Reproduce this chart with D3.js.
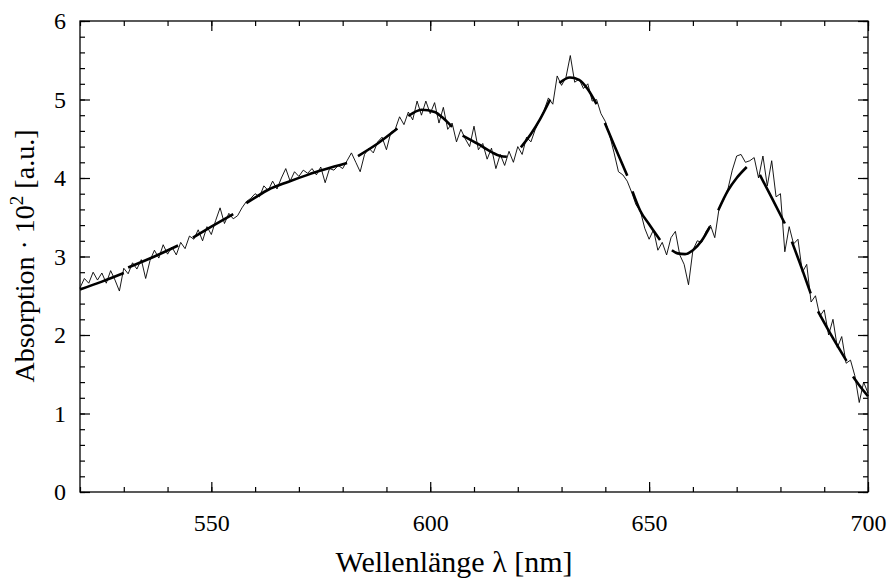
<!DOCTYPE html>
<html><head><meta charset="utf-8">
<script src="https://cdn.jsdelivr.net/npm/d3@7"></script>
<style>
html,body{margin:0;padding:0;background:#fff;}
svg{display:block;font-family:"Liberation Serif","Times New Roman",serif;}
</style></head>
<body><svg id="c" width="889" height="580"></svg>
<script>
// ---- data ----
const wavelengthStart = 520;
const wavelengthStep = 1;
const measured = [
2.60,2.72,2.66,2.80,2.70,2.79,2.66,2.82,2.70,2.56,
2.85,2.78,2.92,2.84,2.96,2.72,2.95,3.08,2.98,3.15,
3.03,3.12,3.02,3.18,3.10,3.26,3.22,3.34,3.20,3.38,
3.28,3.46,3.62,3.42,3.55,3.48,3.52,3.62,3.70,3.74,
3.80,3.76,3.90,3.84,3.96,3.86,4.00,4.12,3.96,4.08,
4.02,4.10,4.06,4.12,4.04,4.14,3.94,4.12,4.10,4.16,
4.12,4.22,4.32,4.20,4.08,4.30,4.38,4.32,4.46,4.52,
4.36,4.58,4.62,4.78,4.68,4.84,4.74,4.98,4.80,4.98,
4.82,4.96,4.70,4.90,4.62,4.70,4.46,4.62,4.50,4.40,
4.66,4.36,4.44,4.24,4.38,4.12,4.30,4.16,4.34,4.20,
4.40,4.30,4.52,4.46,4.62,4.74,4.86,5.02,4.94,5.30,
5.18,5.28,5.56,5.22,5.26,5.14,5.20,4.98,5.00,4.82,
4.72,4.54,4.32,4.08,4.04,3.96,3.82,3.66,3.58,3.36,
3.22,3.34,3.08,3.18,3.02,3.24,3.32,3.02,2.90,2.64,
3.08,3.20,3.18,3.32,3.40,3.24,3.62,3.72,3.86,4.10,
4.28,4.30,4.20,4.22,4.26,4.00,4.28,3.90,4.22,3.76,
3.80,3.06,3.38,3.16,3.22,2.80,2.90,2.42,2.50,2.24,
2.32,2.00,2.20,1.84,1.98,1.64,1.68,1.48,1.14,1.40,
1.26
];
const fitSegments = [
  [[520,2.58],[525,2.68],[530,2.79]],
  [[531,2.86],[537,3.00],[542.4,3.14]],
  [[545.8,3.24],[550,3.38],[555,3.54]],
  [[558,3.68],[560,3.75],[563,3.85],[567.5,3.95],[572,4.04],[576,4.11],[581,4.19]],
  [[583.5,4.28],[588,4.44],[592.5,4.63]],
  [[595,4.79],[598,4.87],[601,4.84],[603,4.76],[605,4.65]],
  [[607.4,4.54],[611,4.43],[614,4.33],[616,4.28],[617.5,4.27]],
  [[620.7,4.39],[623,4.56],[625,4.74],[627.4,5.0]],
  [[629.5,5.21],[631.9,5.28],[634,5.25],[636,5.13],[638,4.94]],
  [[639.9,4.70],[642,4.42],[645,4.03]],
  [[646.2,3.83],[648,3.58],[650,3.41],[652.5,3.21]],
  [[655.2,3.08],[656.5,3.04],[658.2,3.03],[660,3.08],[662,3.20],[663.9,3.38]],
  [[665.8,3.59],[668,3.84],[670,4.00],[672.3,4.14]],
  [[675.3,4.04],[678,3.75],[681,3.42]],
  [[682.6,3.19],[685,2.83],[686.9,2.53]],
  [[688.6,2.30],[692,1.96],[695.1,1.67]],
  [[696.6,1.47],[698,1.36],[700,1.22]]
];
const xTickLabels = [550, 600, 650, 700];
const yTickLabels = [0, 1, 2, 3, 4, 5, 6];
const xTitle = "Wellenlänge λ [nm]";

// ---- layout ----
const W = 889, H = 580;
const m = {left: 80, right: 21, top: 21, bottom: 88};
const svg = d3.select("#c");
const x = d3.scaleLinear().domain([520, 700]).range([m.left, W - m.right]);
const y = d3.scaleLinear().domain([0, 6]).range([H - m.bottom, m.top]);

const pts = measured.map((v, i) => [wavelengthStart + i * wavelengthStep, v]);

const g = svg.append("g");
g.append("path").datum(pts)
  .attr("fill", "none").attr("stroke", "#000").attr("stroke-width", 0.9)
  .attr("stroke-linejoin", "round")
  .attr("d", d3.line().x(d => x(d[0])).y(d => y(d[1])));
const fitLine = d3.line().x(d => x(d[0])).y(d => y(d[1])).curve(d3.curveMonotoneX);
g.selectAll("path.fit").data(fitSegments).join("path").attr("class", "fit")
  .attr("fill", "none").attr("stroke", "#000").attr("stroke-width", 2.6)
  .attr("stroke-linecap", "butt")
  .attr("d", fitLine);

svg.append("rect").attr("x", m.left).attr("y", m.top)
  .attr("width", W - m.left - m.right).attr("height", H - m.top - m.bottom)
  .attr("fill", "none").attr("stroke", "#000").attr("stroke-width", 1.3);

const xMinor = d3.range(520, 701, 10);
const yMinor = d3.range(0, 6.001, 0.2).map(v => +v.toFixed(1));
const axStyle = s => s.call(gg => gg.select(".domain").remove())
  .call(gg => gg.selectAll("line").attr("stroke", "#000").attr("stroke-width", 1.2));

svg.append("g").attr("transform", `translate(0,${H - m.bottom})`)
  .call(d3.axisBottom(x).tickValues(xMinor).tickSize(-5).tickFormat(""))
  .call(axStyle);
svg.append("g").attr("transform", `translate(0,${H - m.bottom})`)
  .call(d3.axisBottom(x).tickValues(xTickLabels).tickSize(-10).tickPadding(22).tickFormat(d3.format("d")))
  .call(axStyle)
  .call(gg => gg.selectAll("text").attr("font-size", 24).attr("fill", "#000")
    .attr("font-family", "Liberation Serif, serif"));
svg.append("g").attr("transform", `translate(0,${m.top})`)
  .call(d3.axisTop(x).tickValues(xMinor).tickSize(-5).tickFormat(""))
  .call(axStyle);
svg.append("g").attr("transform", `translate(0,${m.top})`)
  .call(d3.axisTop(x).tickValues(xTickLabels).tickSize(-10).tickFormat(""))
  .call(axStyle);
svg.append("g").attr("transform", `translate(${m.left},0)`)
  .call(d3.axisLeft(y).tickValues(yMinor).tickSize(-5).tickFormat(""))
  .call(axStyle);
svg.append("g").attr("transform", `translate(${m.left},0)`)
  .call(d3.axisLeft(y).tickValues(yTickLabels).tickSize(-10).tickPadding(14).tickFormat(d3.format("d")))
  .call(axStyle)
  .call(gg => gg.selectAll("text").attr("font-size", 24).attr("fill", "#000")
    .attr("font-family", "Liberation Serif, serif"));
svg.append("g").attr("transform", `translate(${W - m.right},0)`)
  .call(d3.axisRight(y).tickValues(yMinor).tickSize(-5).tickFormat(""))
  .call(axStyle);
svg.append("g").attr("transform", `translate(${W - m.right},0)`)
  .call(d3.axisRight(y).tickValues(yTickLabels).tickSize(-10).tickFormat(""))
  .call(axStyle);

svg.append("text").attr("x", 454).attr("y", 572).attr("text-anchor", "middle")
  .attr("font-size", 30).text(xTitle);
const yt = svg.append("text").attr("transform", "translate(34,256) rotate(-90)")
  .attr("text-anchor", "middle").attr("font-size", 28);
yt.append("tspan").text("Absorption · 10");
yt.append("tspan").attr("font-size", 19).attr("dy", -11).text("2");
yt.append("tspan").attr("dy", 11).text(" [a.u.]");
</script></body></html>
